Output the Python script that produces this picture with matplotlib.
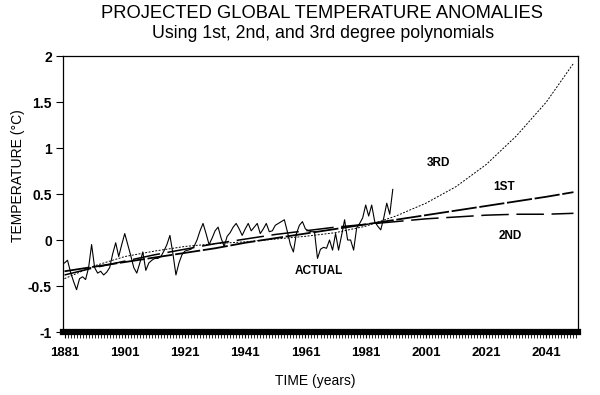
import matplotlib
matplotlib.use('Agg')
import matplotlib.pyplot as plt
from matplotlib.ticker import MultipleLocator

plt.rcParams['font.family'] = ['Liberation Sans', 'DejaVu Sans']

actual_years = list(range(1881, 1991))
actual_vals = [
    -0.25, -0.22, -0.35, -0.45, -0.54, -0.42, -0.40, -0.43, -0.30, -0.05,
    -0.30, -0.36, -0.34, -0.38, -0.35, -0.30, -0.15, -0.03, -0.18, -0.05,
    0.07, -0.05, -0.17, -0.30, -0.36, -0.25, -0.13, -0.33, -0.25, -0.22,
    -0.20, -0.20, -0.18, -0.12, -0.05, 0.05, -0.15, -0.38, -0.25, -0.16,
    -0.12, -0.11, -0.10, -0.07, 0.00, 0.10, 0.18, 0.07, -0.05, 0.02,
    0.10, 0.14, 0.02, -0.07, 0.04, 0.08, 0.14, 0.18, 0.12, 0.05,
    0.12, 0.18, 0.10, 0.14, 0.18, 0.07, 0.12, 0.18, 0.09, 0.10,
    0.16, 0.18, 0.20, 0.22, 0.09, -0.05, -0.13, 0.07, 0.16, 0.20,
    0.12, 0.10, 0.09, 0.09, -0.20, -0.10, -0.08, -0.09, 0.00, -0.11,
    0.07, -0.11, 0.05, 0.22, 0.00, 0.00, -0.11, 0.13, 0.18, 0.24,
    0.38, 0.26, 0.38, 0.20, 0.15, 0.11, 0.24, 0.40, 0.28, 0.55,
]

# Fitted curves, read at decade steps
fit_years = [1881, 1891, 1901, 1911, 1921, 1931, 1941, 1951, 1961,
             1971, 1981, 1991, 2001, 2011, 2021, 2031, 2041, 2050]
first_deg = [-0.34, -0.29, -0.24, -0.19, -0.14, -0.09, -0.03, 0.02, 0.07,
             0.12, 0.17, 0.22, 0.27, 0.32, 0.37, 0.42, 0.47, 0.52]
second_deg = [-0.38, -0.30, -0.23, -0.16, -0.10, -0.04, 0.01, 0.06, 0.10,
              0.14, 0.17, 0.20, 0.23, 0.25, 0.27, 0.28, 0.28, 0.29]
third_deg = [-0.42, -0.28, -0.18, -0.12, -0.07, -0.04, -0.02, 0.01, 0.04,
             0.08, 0.15, 0.26, 0.40, 0.58, 0.82, 1.13, 1.50, 1.92]

xtick_years = [1881, 1901, 1921, 1941, 1961, 1981, 2001, 2021, 2041]
ytick_vals = [-1, -0.5, 0, 0.5, 1, 1.5, 2]
ytick_labels = ['-1', '-0.5', '0', '0.5', '1', '1.5', '2']

fig = plt.figure(figsize=(6, 3.95), dpi=100)
ax = fig.add_axes([63 / 600, 1 - 332 / 395, 515 / 600, 276 / 395])

ax.plot(actual_years, actual_vals, color='black', lw=0.8)
ax.plot(fit_years, first_deg, color='black', lw=1.3, dashes=(14, 1.5))
ax.plot(fit_years, second_deg, color='black', lw=1.1, dashes=(18, 5))
ax.plot(fit_years, third_deg, color='black', lw=0.7, dashes=(2, 1.5))

ax.set_xlim(1880.5, 2051.5)
ax.set_ylim(-1, 2)
ax.set_xticks(xtick_years)
ax.xaxis.set_minor_locator(MultipleLocator(1))
ax.set_yticks(ytick_vals)
ax.set_yticklabels(ytick_labels)
for lbl in ax.get_xticklabels() + ax.get_yticklabels():
    lbl.set_fontweight('bold')
ax.tick_params(axis='x', which='major', length=4, width=0.8, labelsize=9.5, pad=7)
ax.tick_params(axis='x', which='minor', length=4, width=0.6)
ax.tick_params(axis='y', length=5, width=0.8, labelsize=10, pad=3)

for side in ['top', 'right', 'left']:
    ax.spines[side].set_linewidth(0.9)
ax.spines['bottom'].set_linewidth(4.5)

ax.text(2005, 0.84, '3RD', fontsize=8.5, fontweight='bold', ha='center', va='center')
ax.text(2027, 0.58, '1ST', fontsize=8.5, fontweight='bold', ha='center', va='center')
ax.text(2029, 0.04, '2ND', fontsize=8.5, fontweight='bold', ha='center', va='center')
ax.text(1965.5, -0.34, 'ACTUAL', fontsize=8.5, fontweight='bold', ha='center', va='center')

fig.text(322 / 600, 1 - 13 / 395, 'PROJECTED GLOBAL TEMPERATURE ANOMALIES',
         fontsize=13.2, ha='center', va='center')
fig.text(323 / 600, 1 - 33 / 395, 'Using 1st, 2nd, and 3rd degree polynomials',
         fontsize=12.8, ha='center', va='center')
fig.text(18 / 600, 1 - 176 / 395, 'TEMPERATURE (\u00b0C)', rotation=90,
         fontsize=10, ha='center', va='center')
fig.text(315 / 600, 1 - 381 / 395, 'TIME (years)', fontsize=10, ha='center', va='center')

fig.savefig('out.png', dpi=100)
